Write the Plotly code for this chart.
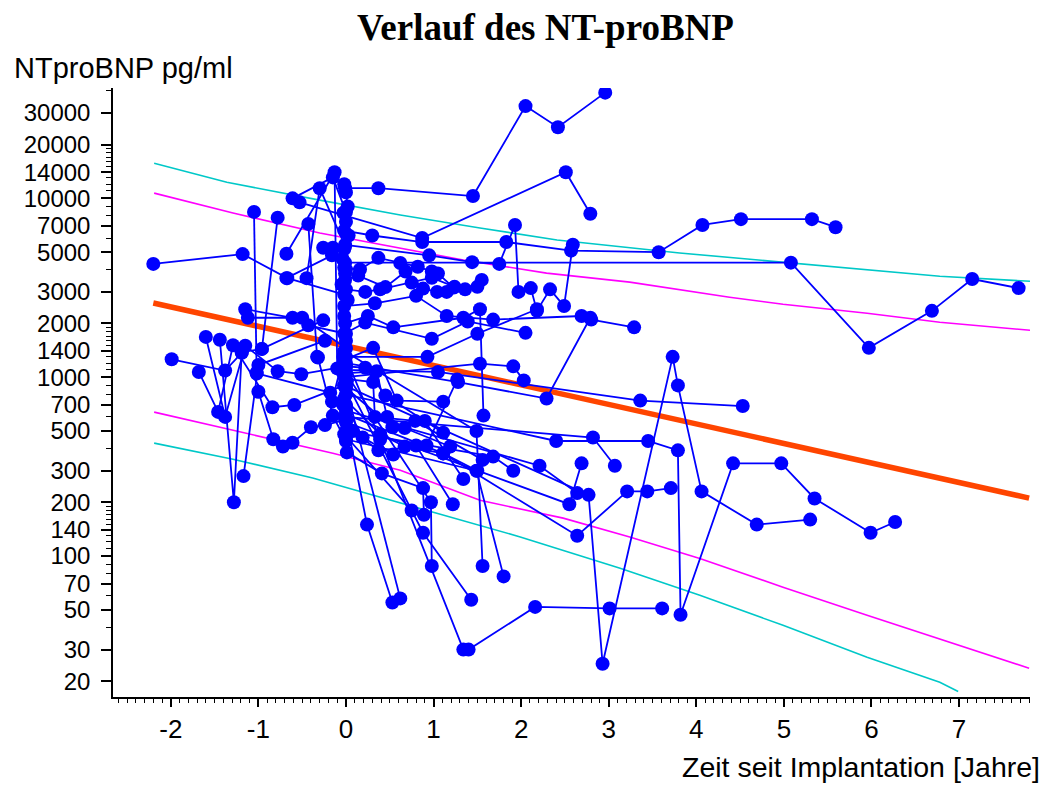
import math
import plotly.graph_objects as go

# ---------------- data ----------------
patient = [
    1, 1, 1, 1, 1, 1,
    2, 2, 2, 2,
    3, 3, 3, 3,
    4, 4, 4, 4, 4, 4,
    5, 5, 5, 5, 5, 5, 5, 5, 5, 5,
    6, 6, 6, 6, 6, 6, 6, 6, 6, 6, 6,
    7, 7, 7, 7, 7, 7, 7, 7,
    8, 8, 8, 8, 8, 8, 8, 8, 8,
    9, 9, 9, 9, 9, 9, 9,
    10, 10, 10, 10, 10, 10, 10, 10,
    11, 11, 11, 11, 11, 11,
    12, 12, 12, 12, 12,
    13, 13, 13, 13,
    14, 14, 14, 14,
    15, 15, 15, 15,
    16, 16, 16, 16,
    17, 17, 17, 17, 17, 17, 17, 17, 17, 17,
    18, 18, 18, 18, 18, 18, 18, 18,
    19, 19, 19, 19, 19, 19,
    20, 20, 20, 20, 20, 20, 20,
    21, 21, 21,
    22, 22, 22,
    23, 23, 23,
    24, 24, 24,
    25, 25, 25,
    26, 26, 26,
    27, 27, 27,
    28, 28,
    29, 29, 29,
    30, 30, 30,
    31, 31, 31, 31,
    32, 32, 32, 32,
    33, 33, 33, 33, 33,
    34, 34, 34, 34, 34,
    35, 35, 35, 35,
    36, 36, 36, 36, 36,
    37, 37, 37, 37, 37,
    38, 38, 38, 38, 38,
    39, 39, 39, 39,
    40, 40,
    41, 41,
    42, 42,
    43, 43, 43,
    44, 44, 44,
    45, 45, 45,
    46, 46,
    47, 47, 47,
    48, 48, 48,
    49, 49, 49,
    50, 50, 50, 50, 50, 50,
    51, 51, 51, 51, 51, 51,
    52, 52, 52, 52, 52,
    53, 53, 53,
    54, 54, 54, 54,
    55, 55, 55,
    56, 56, 56, 56, 56, 56, 56,
    57, 57, 57,
    58, 58, 58,
    59, 59, 59,
    60, 60, 60,
    61, 61, 61,
    62, 62, 62,
    63, 63, 63,
]

years = [
    -0.01, 0.37, 1.45, 2.05, 2.42, 2.96,
    -0.53, 0.87, 2.51, 2.79,
    -2.20, -1.18, -0.67, -0.02,
    -0.01, 5.08, 5.97, 6.69, 7.15, 7.68,
    -0.02, 0.30, 0.87, 1.83, 2.57, 3.57, 4.07, 4.51, 5.32, 5.59,
    -0.01, 0.95, 1.44, 1.75, 1.93, 1.97, 2.11, 2.18, 2.33, 2.49, 2.59,
    -0.02, 0.16, 0.37, 0.62, 0.82, 0.98, 1.05, 1.23,
    -0.01, 0.14, 0.45, 0.68, 0.88, 1.04, 1.15, 1.36, 1.55,
    0.00, 0.22, 0.39, 0.75, 0.98, 1.24, 1.50,
    -0.02, 0.33, 0.80, 1.15, 1.68, 2.69, 2.80, 3.29,
    -0.01, 0.25, 0.54, 1.34, 1.53, 1.57,
    -0.02, 0.22, 0.98, 1.39, 2.05,
    0.00, 0.93, 1.50, 2.18,
    -0.01, 1.53, 1.91, 2.03,
    0.00, 1.28, 2.29, 2.79,
    -0.02, 1.05, 3.36, 4.53,
    0.00, 2.40, 3.45, 3.79, 3.82, 4.42, 4.97, 5.35, 5.99, 6.27,
    -0.02, 2.77, 2.93, 3.73, 3.79, 4.06, 4.69, 5.30,
    0.00, 1.11, 2.64, 3.21, 3.44, 3.71,
    -0.02, 0.39, 1.34, 1.40, 2.16, 3.01, 3.61,
    -0.01, 2.82, 3.07,
    0.00, 2.21, 2.64,
    0.00, 2.55, 2.69,
    0.00, 1.68, 1.91,
    0.00, 1.49, 1.80,
    -0.02, 1.49, 1.56,
    -0.03, 0.24, 0.53,
    0.00, 0.62,
    0.00, 0.97, 0.98,
    0.00, 0.88, 1.43,
    -0.02, 0.31, 0.58, 1.11,
    0.00, 0.22, 0.45, 1.11,
    -0.03, 0.35, 0.47, 0.67, 1.19,
    -0.01, 0.31, 0.33, 0.79, 1.56,
    0.00, 0.53, 0.90, 1.34,
    -0.02, 0.39, 0.67, 1.11, 1.50,
    0.00, 0.19, 0.54, 0.80, 1.22,
    -0.01, 0.08, 0.37, 0.92, 1.27,
    0.01, 0.41, 0.88, 0.89,
    -0.02, 0.75,
    -1.05, -1.02,
    -0.96, -0.78,
    -0.61, -0.15, 0.00,
    -0.68, -0.13, -0.10,
    -0.45, -0.30, -0.01,
    -0.43, -0.33,
    -0.26, -0.15, -0.02,
    -0.68, -0.16, 0.00,
    -1.99, -1.38, -1.19,
    -1.68, -1.46, -1.29, -0.84, -0.59, -0.02,
    -1.60, -1.38, -1.15, -0.78, -0.51, 0.00,
    -1.44, -1.28, -1.19, -0.96, -0.26,
    -1.17, -1.00, -0.24,
    -1.15, -0.61, -0.43, 0.00,
    -1.12, -0.50, 0.00,
    -1.00, -0.83, -0.72, -0.61, -0.40, -0.24, 0.00,
    -1.02, -0.18, 0.00,
    -0.32, -0.15, 0.00,
    -0.05, -0.02, 0.00,
    -0.04, -0.01, 0.02,
    -0.03, 0.00, 0.03,
    -0.16, -0.03, 0.01,
    -0.02, 0.00, 0.02,
]

ntprobnp = [
    11400, 11400, 10300, 32800, 25000, 39000,
    9500, 6000, 14000, 8200,
    4300, 4880, 3580, 2900,
    4370, 4370, 1460, 2350, 3540, 3150,
    6600, 6200, 5700, 5700, 5100, 5000, 7100, 7650, 7650, 6900,
    5500, 4800, 4400, 4300, 7100, 3000, 3150, 2350, 3100, 2500, 5500,
    4100, 4000, 4650, 4350, 4150, 3900, 3800, 3170,
    3500, 3700, 3190, 3900, 3130, 3000, 3000, 3100, 3500,
    3100, 3000, 3100, 3380, 3600, 3200, 3200,
    2500, 2590, 2850, 2200, 2100, 2200, 2100, 1900,
    2000, 2200, 1900, 2150, 2400, 610,
    1750, 2020, 1640, 2050, 1770,
    1300, 1300, 1750, 2400,
    1000, 1190, 1150, 960,
    1200, 940, 760, 2150,
    1100, 1070, 740, 690,
    800, 440, 440, 390, 47, 330, 330, 210, 135, 155,
    900, 220, 25, 1300, 900, 230, 150, 160,
    620, 375, 130, 230, 230, 240,
    1350, 450, 30, 30, 52, 51, 51,
    600, 460, 320,
    650, 320, 225,
    560, 195, 330,
    500, 360, 300,
    450, 300, 77,
    1400, 500, 88,
    700, 150, 55,
    880, 58,
    1050, 200, 88,
    950, 135, 57,
    1250, 1460, 740, 730,
    1150, 1130, 790, 490,
    1050, 1080, 600, 520, 410,
    980, 940, 600, 570, 345,
    870, 525, 570, 270,
    760, 480, 410, 375, 300,
    690, 460, 370, 415, 195,
    580, 500, 390, 415, 970,
    380, 290, 240, 170,
    480, 180,
    8400, 1060,
    1440, 7800,
    10000, 13100, 8400,
    4900, 14000, 1120,
    3580, 11400, 5400,
    7200, 1300,
    5300, 5300, 5200,
    3580, 4800, 4000,
    1260, 1090, 1370,
    1070, 640, 1510, 680, 700, 900,
    1680, 600, 1500, 1080, 1040, 1150,
    1620, 200, 1380, 1440, 2080,
    280, 1170, 1600,
    2400, 2150, 1950, 1750,
    2150, 2150, 1450,
    830, 450, 410, 430, 525, 540, 580,
    1050, 820, 700,
    1290, 610, 440,
    3300, 2200, 1600,
    4600, 3800, 2700,
    8300, 7400, 6200,
    730, 1300, 950,
    12000, 10800, 9000,
]

# regression line (geometric mean course)
reg_years = [-2.20, 7.80]
reg_value = [2600, 211]

# inner (magenta) band
band1_years = [-2.19, -1.29, -0.30, 0.62, 1.34, 2.29, 3.24, 4.38, 4.99, 5.95, 6.78, 7.81]
band1_upper = [10700, 8280, 6400, 5270, 4520, 3820, 3400, 2800, 2560, 2280, 2030, 1830]
band1_lower_years = [-2.19, -1.29, -0.15, 0.62, 1.53, 2.48, 3.24, 4.04, 4.99, 5.95, 6.89, 7.80]
band1_lower = [638, 506, 376, 302, 205, 163, 128, 97, 67, 46.7, 33, 23.6]

# outer (cyan) band
band2_upper_years = [-2.19, -1.36, -0.30, 0.62, 1.53, 2.41, 3.81, 5.07, 6.78, 7.81]
band2_upper = [15700, 12300, 9780, 8070, 6830, 5850, 4950, 4350, 3670, 3440]
band2_lower_years = [-2.19, -1.29, -0.38, 0.62, 1.99, 3.13, 4.04, 4.99, 5.95, 6.78, 6.99]
band2_lower = [428, 348, 273, 198, 128, 85.6, 60.4, 41, 27.2, 19.7, 17.5]

# axis ticks
x_tickvals = [-2, -1, 0, 1, 2, 3, 4, 5, 6, 7]
x_ticktext = ["-2", "-1", "0", "1", "2", "3", "4", "5", "6", "7"]
y_tickvals = [20, 30, 50, 70, 100, 140, 200, 300, 500, 700, 1000, 1400,
              2000, 3000, 5000, 7000, 10000, 14000, 20000, 30000]
y_ticktext = ["20", "30", "50", "70", "100", "140", "200", "300", "500", "700",
              "1000", "1400", "2000", "3000", "5000", "7000", "10000", "14000",
              "20000", "30000"]
y_minorvals = [40, 60, 80, 90, 110, 120, 130, 150, 160, 170, 180, 190,
               400, 600, 800, 900, 1100, 1200, 1300, 1500, 1600, 1700, 1800, 1900,
               4000, 6000, 8000, 9000, 11000, 12000, 13000, 15000, 16000, 17000,
               18000, 19000, 40000]

# ---------------- build traces ----------------
px_x, px_y = [], []
prev = None
for pid, t, v in zip(patient, years, ntprobnp):
    if prev is not None and pid != prev:
        px_x.append(None)
        px_y.append(None)
    px_x.append(t)
    px_y.append(v)
    prev = pid

fig = go.Figure()

CYAN = "#00C8C8"
MAGENTA = "#FF00FF"

fig.add_trace(go.Scatter(x=band2_upper_years, y=band2_upper, mode="lines",
                         line=dict(color=CYAN, width=1.6), hoverinfo="skip"))
fig.add_trace(go.Scatter(x=band2_lower_years, y=band2_lower, mode="lines",
                         line=dict(color=CYAN, width=1.6), hoverinfo="skip"))
fig.add_trace(go.Scatter(x=band1_years, y=band1_upper, mode="lines",
                         line=dict(color=MAGENTA, width=1.6), hoverinfo="skip"))
fig.add_trace(go.Scatter(x=band1_lower_years, y=band1_lower, mode="lines",
                         line=dict(color=MAGENTA, width=1.6), hoverinfo="skip"))
fig.add_trace(go.Scatter(x=reg_years, y=reg_value, mode="lines",
                         line=dict(color="#FF4500", width=5.5), hoverinfo="skip"))
fig.add_trace(go.Scatter(x=px_x, y=px_y, mode="lines+markers", connectgaps=False,
                         line=dict(color="#0000FF", width=1.8),
                         marker=dict(color="#0000FF", size=14, line=dict(width=0))))

W, H = 1048, 785
L, R, T, B = 113, 18, 88, 88
pw, ph = W - L - R, H - T - B


def px2paper_x(px):
    return (px - L) / pw


def px2paper_y(py):
    return (H - B - py) / ph


YTICKFONT = dict(family="Liberation Sans, Arial, sans-serif", size=24, color="black")
XTICKFONT = dict(family="Liberation Sans, Arial, sans-serif", size=26, color="black")

fig.update_layout(
    width=W, height=H,
    margin=dict(l=L, r=R, t=T, b=B),
    paper_bgcolor="white", plot_bgcolor="white",
    showlegend=False,
    xaxis=dict(
        range=[-2.66, 7.81], tickmode="array", tickvals=x_tickvals, ticktext=x_ticktext,
        ticks="outside", ticklen=8, tickwidth=1.5, tickcolor="black",
        showline=True, linecolor="black", linewidth=1.5, mirror=False,
        showgrid=False, zeroline=False, tickfont=XTICKFONT,
        minor=dict(ticks="outside", ticklen=4, tickwidth=1.2, tickcolor="black",
                   dtick=0.1, tick0=0, showgrid=False),
    ),
    yaxis=dict(
        type="log", range=[math.log10(16.3), math.log10(41400)],
        tickmode="array", tickvals=y_tickvals, ticktext=y_ticktext,
        ticks="outside", ticklen=10, tickwidth=1.5, tickcolor="black",
        showline=True, linecolor="black", linewidth=1.5, mirror=False,
        showgrid=False, zeroline=False, tickfont=YTICKFONT, ticklabelstandoff=6,
        minor=dict(ticks="outside", ticklen=5, tickwidth=1.2, tickcolor="black",
                   tickvals=y_minorvals, showgrid=False),
    ),
    annotations=[
        dict(text="<b>Verlauf des NT-proBNP</b>", xref="paper", yref="paper",
             x=px2paper_x(545.5), y=px2paper_y(28), xanchor="center", yanchor="middle",
             showarrow=False,
             font=dict(family="Liberation Serif, Times New Roman, serif", size=37, color="black")),
        dict(text="NTproBNP pg/ml", xref="paper", yref="paper",
             x=px2paper_x(12), y=px2paper_y(68), xanchor="left", yanchor="middle",
             showarrow=False,
             font=dict(family="Liberation Sans, Arial, sans-serif", size=29, color="black")),
        dict(text="Zeit seit Implantation [Jahre]", xref="paper", yref="paper",
             x=px2paper_x(1042), y=px2paper_y(767), xanchor="right", yanchor="middle",
             showarrow=False,
             font=dict(family="Liberation Sans, Arial, sans-serif", size=28.5, color="black")),
    ],
)

fig.write_html("out.html")
